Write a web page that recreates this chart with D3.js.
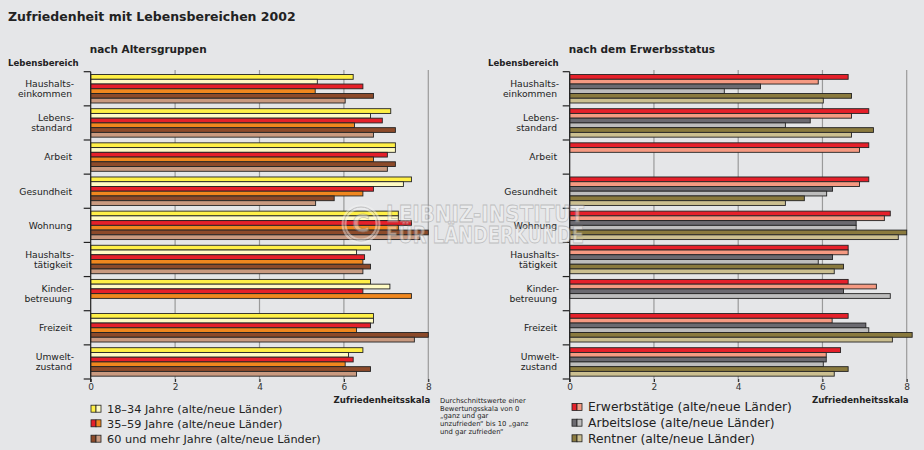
<!DOCTYPE html>
<html><head><meta charset="utf-8">
<script src="https://cdn.jsdelivr.net/npm/d3@7"></script>
<style>
html,body{margin:0;padding:0;background:#e5e6e8;}
svg{display:block;font-family:"DejaVu Sans",Verdana,sans-serif;}
</style></head>
<body>
<svg id="chart" width="924" height="450"></svg>
<script>
// ---------- data ----------
const categories = [
  ["Haushalts-","einkommen"],
  ["Lebens-","standard"],
  ["Arbeit"],
  ["Gesundheit"],
  ["Wohnung"],
  ["Haushalts-","tätigkeit"],
  ["Kinder-","betreuung"],
  ["Freizeit"],
  ["Umwelt-","zustand"]
];
const xTicks = [0, 2, 4, 6, 8];

// left panel: nach Altersgruppen (alte / neue Länder)
const age18_34_alt = [6.22, 7.11, 7.22, 7.60, 7.29, 6.63, 6.63, 6.70, 6.45];
const age18_34_neu = [5.37, 6.63, 7.22, 7.41, 7.29, 6.30, 7.09, 6.70, 6.11];
const age35_59_alt = [6.45, 6.91, 7.03, 6.70, 7.60, 6.49, 6.45, 6.63, 6.22];
const age35_59_neu = [5.32, 6.25, 6.70, 6.45, 7.29, 6.45, 7.60, 6.30, 6.03];
const age60_alt    = [6.70, 7.22, 7.22, 5.77, 8.00, 6.63, null, 8.00, 6.63];
const age60_neu    = [6.03, 6.70, 7.03, 5.33, 7.80, 6.45, null, 7.67, 6.30];

// right panel: nach dem Erwerbsstatus (alte / neue Länder)
const erwerb_alt   = [6.61, 7.10, 7.10, 7.10, 7.61, 6.61, 6.61, 6.61, 6.43];
const erwerb_neu   = [5.90, 6.69, 6.88, 6.88, 7.47, 6.61, 7.28, 6.23, 6.09];
const arblos_alt   = [4.53, 5.71, null, 6.24, 6.80, 6.24, 6.50, 7.03, 6.09];
const arblos_neu   = [3.67, 5.12, null, 6.10, 6.80, 5.90, 7.61, 7.10, 6.02];
const rentner_alt  = [6.69, 7.21, null, 5.57, 8.00, 6.50, null, 8.13, 6.61];
const rentner_neu  = [6.02, 6.69, null, 5.12, 7.80, 6.28, null, 7.66, 6.28];

const leftLegend  = ["18–34 Jahre (alte/neue Länder)", "35–59 Jahre (alte/neue Länder)", "60 und mehr Jahre (alte/neue Länder)"];
const rightLegend = ["Erwerbstätige (alte/neue Länder)", "Arbeitslose (alte/neue Länder)", "Rentner (alte/neue Länder)"];
const footnote = ["Durchschnittswerte einer", "Bewertungsskala von 0", "„ganz und gar", "unzufrieden“ bis 10 „ganz", "und gar zufrieden“"];

// ---------- styles ----------
const leftColors  = ["#fff046", "#fffbc4", "#e5202a", "#f0871e", "#8c4a2a", "#c99a80"];
const rightColors = ["#e5202a", "#f59a82", "#6b6a70", "#bdbdbd", "#8a7a3e", "#cbbf90"];

const svg = d3.select("#chart");
const ink = "#222";

svg.append("text").attr("x", 8).attr("y", 21)
  .attr("font-size", 12.5).attr("font-weight", "bold").attr("fill", ink)
  .text("Zufriedenheit mit Lebensbereichen 2002");

const yTop = 71.7, yBot = 379;

// watermark drawn later on top
function panel(opt) {
  const g = svg.append("g");
  const x = d3.scaleLinear().domain([0, 8]).range([opt.x0, opt.x8]);
  const y = d3.scaleBand().domain(d3.range(categories.length)).range([yTop, yBot]).padding(0);
  const series = opt.series;
  const yi = d3.scaleBand().domain(d3.range(series.length)).range([0, y.bandwidth()])
    .paddingInner(0).paddingOuter(0.6);

  // title & axis title
  g.append("text").attr("x", opt.x0 - 1).attr("y", 53).attr("font-size", 10.5)
    .attr("font-weight", "bold").attr("fill", ink).text(opt.title);
  g.append("text").attr("x", opt.lbX).attr("y", 65.5).attr("font-size", 8.6)
    .attr("font-weight", "bold").attr("fill", ink).text("Lebensbereich");

  // grid
  g.append("g").selectAll("line").data(xTicks.filter(d => d > 0)).join("line")
    .attr("x1", d => x(d)).attr("x2", d => x(d))
    .attr("y1", 70).attr("y2", 382)
    .attr("stroke", "#9a9a9a").attr("stroke-width", 1.2);

  // bars
  series.forEach((vals, si) => {
    g.append("g").selectAll("rect").data(vals.map((v, i) => ({v, i})).filter(d => d.v != null))
      .join("rect")
      .attr("x", x(0))
      .attr("y", d => y(d.i) + yi(si))
      .attr("width", d => x(d.v) - x(0))
      .attr("height", yi.bandwidth())
      .attr("fill", opt.colors[si])
      .attr("stroke", ink).attr("stroke-width", 0.9);
  });

  // y axis
  g.append("line").attr("x1", x(0)).attr("x2", x(0)).attr("y1", yTop).attr("y2", 382)
    .attr("stroke", ink).attr("stroke-width", 1.2);
  g.append("g").selectAll("line").data(d3.range(categories.length + 1)).join("line")
    .attr("x1", x(0) - 7).attr("x2", x(0))
    .attr("y1", d => yTop + d * y.step()).attr("y2", d => yTop + d * y.step())
    .attr("stroke", ink).attr("stroke-width", 1.2);

  // category labels
  categories.forEach((lines, i) => {
    const cy = y(i) + y.bandwidth() / 2;
    const t = g.append("text").attr("font-size", 9.2).attr("fill", ink).attr("text-anchor", "end");
    lines.forEach((ln, k) => {
      t.append("tspan").attr("x", opt.labelX + (ln.endsWith("-") ? 2 : 0))
        .attr("y", cy + 3.3 + (k - (lines.length - 1) / 2) * 9.6).text(ln);
    });
  });

  // x axis
  const xa = g.append("g").attr("transform", `translate(0,${yBot})`)
    .call(d3.axisBottom(x).tickValues(xTicks).tickFormat(d3.format("d")).tickSize(3).tickPadding(2));
  xa.select(".domain").remove();
  xa.selectAll("line").attr("stroke", ink);
  xa.selectAll("text").attr("font-size", 9).attr("fill", "#333").attr("font-family", "DejaVu Sans, sans-serif");

  g.append("text").attr("x", opt.x8 + 2).attr("y", 403).attr("text-anchor", "end")
    .attr("font-size", 8.6).attr("font-weight", "bold").attr("fill", ink).text("Zufriedenheitsskala");

  // legend
  opt.legend.forEach((lbl, k) => {
    const ly = opt.legY[k];
    g.append("rect").attr("x", opt.legX).attr("y", ly - 3.5).attr("width", 5).attr("height", 7)
      .attr("fill", opt.colors[k * 2]).attr("stroke", ink).attr("stroke-width", 0.8);
    g.append("rect").attr("x", opt.legX + 5).attr("y", ly - 3.5).attr("width", 5).attr("height", 7)
      .attr("fill", opt.colors[k * 2 + 1]).attr("stroke", ink).attr("stroke-width", 0.8);
    g.append("text").attr("x", opt.legX + 16).attr("y", ly + 4.3).attr("font-size", opt.legFont)
      .attr("fill", ink).text(lbl);
  });
}

panel({
  x0: 90.7, x8: 428.3, title: "nach Altersgruppen", lbX: 8, labelX: 72,
  series: [age18_34_alt, age18_34_neu, age35_59_alt, age35_59_neu, age60_alt, age60_neu],
  colors: leftColors, legend: leftLegend, legX: 91, legY: [408.7, 423.3, 438.7], legFont: 11.3
});
panel({
  x0: 569.7, x8: 906.7, title: "nach dem Erwerbsstatus", lbX: 488, labelX: 557,
  series: [erwerb_alt, erwerb_neu, arblos_alt, arblos_neu, rentner_alt, rentner_neu],
  colors: rightColors, legend: rightLegend, legX: 572, legY: [407, 422.7, 438.3], legFont: 12.3
});

// footnote
const fn = svg.append("text").attr("font-size", 6.8).attr("fill", ink);
footnote.forEach((ln, k) => fn.append("tspan").attr("x", 440).attr("y", 403 + k * 7.7).text(ln));

// watermark
const wm = svg.append("g").attr("opacity", 0.45);
wm.append("circle").attr("cx", 361).attr("cy", 224).attr("r", 17)
  .attr("fill", "none").attr("stroke", "#f4f4f4").attr("stroke-width", 5);
wm.append("circle").attr("cx", 361).attr("cy", 224).attr("r", 17)
  .attr("fill", "none").attr("stroke", "#8a8a8a").attr("stroke-width", 1);
wm.append("text").attr("x", 361).attr("y", 232).attr("text-anchor", "middle")
  .attr("font-size", 24).attr("font-weight", "bold").attr("fill", "#f4f4f4").attr("stroke", "#8a8a8a").attr("stroke-width", 0.8)
  .text("C");
[["LEIBNIZ-INSTITUT", 221.5], ["FÜR LÄNDERKUNDE", 243]].forEach(([t, yy]) => {
  wm.append("text").attr("x", 386).attr("y", yy).attr("font-size", 23).attr("font-weight", "bold")
    .attr("textLength", 198).attr("lengthAdjust", "spacingAndGlyphs")
    .attr("fill", "#f4f4f4").attr("stroke", "#8a8a8a").attr("stroke-width", 0.8).text(t);
});
</script>
</body></html>
